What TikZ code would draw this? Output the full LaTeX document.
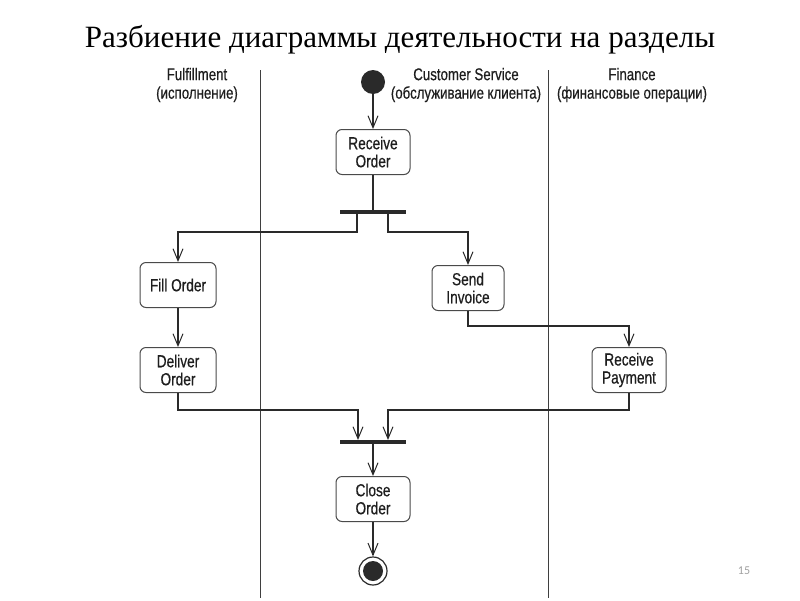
\documentclass[tikz,border=0pt]{standalone}
\usepackage{fontspec}
\setmainfont{Liberation Serif}
\newfontfamily\cond[FakeStretch=0.78,FakeBold=0.5]{Liberation Sans}
\newfontfamily\carl{Carlito}
\usetikzlibrary{arrows.meta,calc}
\definecolor{ink}{HTML}{2A2A2A}
\definecolor{txt}{HTML}{1E1E1E}
\definecolor{pagegray}{HTML}{A0A0A0}
\tikzset{
  actbox/.style={draw=ink!85,line width=1pt,rounded corners=6pt,minimum width=74pt,minimum height=45pt,inner sep=2pt,align=center,font=\cond\fontsize{17.5}{18}\selectfont,text=txt},
  bar/.style={fill=ink,draw=none,minimum width=66pt,minimum height=4pt,inner sep=0pt},
  flow/.style={draw=ink,line width=1.1pt,-{Straight Barb[length=12pt,width=10pt,line width=1pt]}},
  plain/.style={draw=ink,line width=1.1pt},
  lane/.style={draw=ink!90,line width=1pt},
  head/.style={align=center,font=\cond\fontsize{17}{18.5}\selectfont,text=txt}
}
\begin{document}
\begin{tikzpicture}[x=1pt,y=-1pt]
\useasboundingbox (0,0) rectangle (800,600);
\node[font=\fontsize{31}{34}\selectfont] (title) at (400,40) {Разбиение диаграммы деятельности на разделы};
% lanes
\coordinate (l1t) at (260,70); \coordinate (l1b) at (260,598);
\coordinate (l2t) at (548,70); \coordinate (l2b) at (548,598);
\draw[lane] (l1t) -- (l1b);
\draw[lane] (l2t) -- (l2b);
\node[head] (h1) at (197,85) {Fulfillment\\(исполнение)};
\node[head] (h2) at (466,85) {Customer Service\\(обслуживание клиента)};
\node[head] (h3) at (632,85) {Finance\\(финансовые операции)};
% nodes
\node[circle,fill=ink,minimum size=24pt,inner sep=0pt] (start) at (373,82) {};
\node[actbox] (recv) at (373,152) {Receive\\Order};
\node[bar] (fork) at (373,212) {};
\node[actbox,minimum width=76pt] (fill) at (178,285) {Fill Order};
\node[actbox,minimum width=72pt] (send) at (468,288) {Send\\Invoice};
\node[actbox,minimum width=76pt] (deliver) at (178,370) {Deliver\\Order};
\node[actbox] (pay) at (629,370) {Receive\\Payment};
\node[bar] (join) at (373,442) {};
\node[actbox] (close) at (373,499) {Close\\Order};
\node[circle,draw=ink,line width=1.2pt,minimum size=28pt,inner sep=0pt] (end) at (373,571) {};
\node[circle,fill=ink,minimum size=20pt,inner sep=0pt] (endin) at (end) {};
\node[font=\carl\fontsize{12}{12}\selectfont,text=pagegray] (pg) at (744,571) {15};
% connectors
\draw[flow] (start) -- (recv);
\draw[plain] (recv) -- (fork);
\coordinate (f1) at (357,214);
\coordinate (f2) at (388,214);
\draw[flow] (f1) -- ++(0,18) -| (fill.north);
\draw[flow] (f2) -- ++(0,18) -| (send.north);
\draw[flow] (fill) -- (deliver);
\draw[flow] (send.south) -- ++(0,15) -| (pay.north);
\coordinate (j1) at (358,440);
\coordinate (j2) at (388,440);
\draw[flow] (deliver.south) |- ($(j1)+(0,-30)$) -- (j1);
\draw[flow] (pay.south) |- ($(j2)+(0,-30)$) -- (j2);
\draw[flow] (join) -- (close);
\draw[flow] (close) -- (end);
\end{tikzpicture}
\end{document}
